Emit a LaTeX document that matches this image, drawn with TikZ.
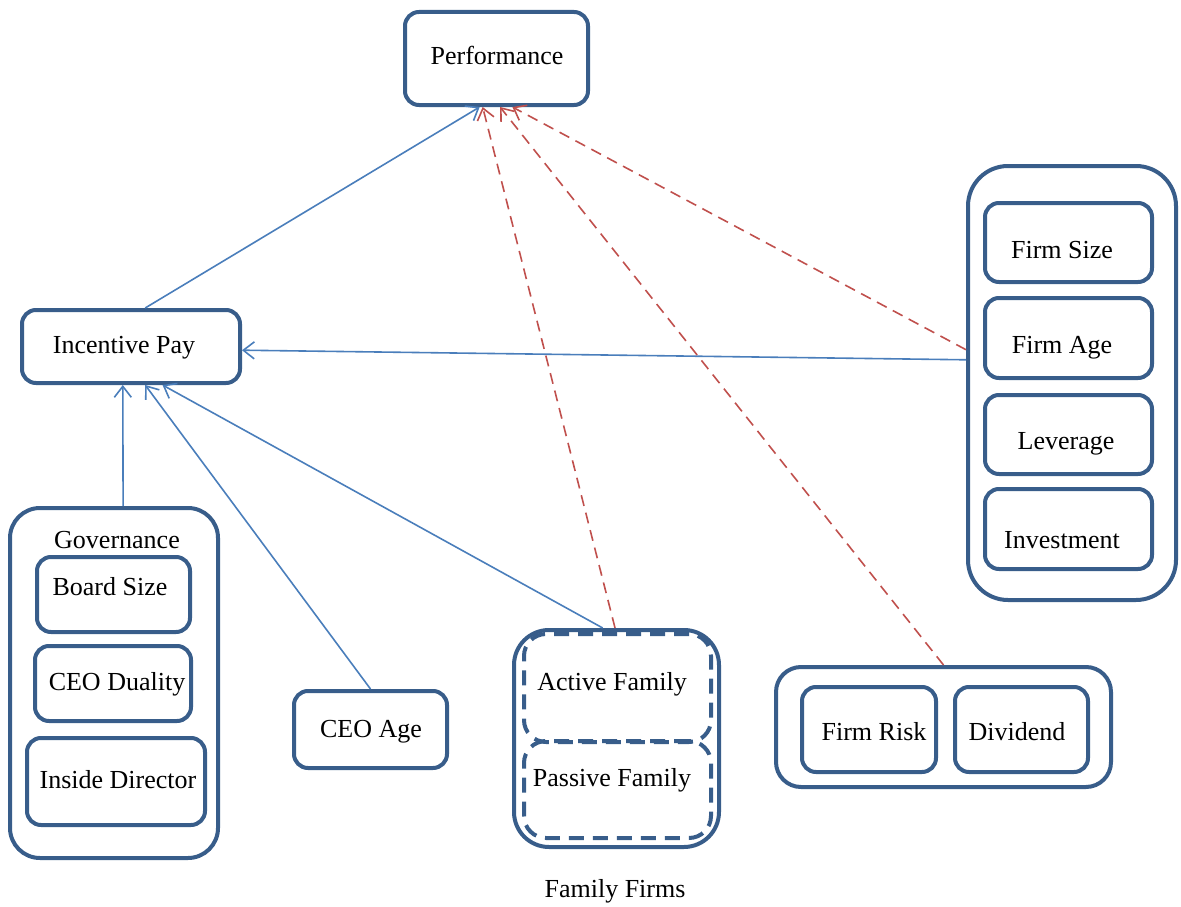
\documentclass[tikz,border=0pt]{standalone}
\usepackage{fontspec}
\setmainfont{Liberation Serif}
\usetikzlibrary{arrows.meta,calc}
\definecolor{boxc}{RGB}{56,93,138}
\definecolor{bluec}{RGB}{74,126,187}
\definecolor{redc}{RGB}{192,80,77}
\begin{document}
\begin{tikzpicture}[x=1pt,y=-1pt,
  box/.style={draw=boxc,line width=4pt,rounded corners=14pt,inner sep=0pt},
  dbox/.style={box,dash pattern=on 15pt off 9pt},
  txt/.style={inner sep=0pt,yshift=-3pt,font=\fontsize{26}{30}\selectfont},
  arr/.style={line width=1.6pt,-{Straight Barb[length=11pt,width=17pt,line width=1.6pt]}},
  solidc/.style={arr,draw=bluec},
  dashc/.style={arr,draw=redc,dash pattern=on 11pt off 7pt}]
\useasboundingbox (0,0) rectangle (1181,907);
% boxes
\node[box,minimum width=183,minimum height=93] (perf) at (496.5,58.5) {};
\node[txt] (tperf) at (497,52) {Performance};
\node[box,minimum width=218,minimum height=73] (inc) at (131,346.5) {};
\node[txt] (tinc) at (124,345) {Incentive Pay};
% governance
\node[box,rounded corners=30pt,minimum width=208,minimum height=350] (gov) at (114,683) {};
\node[txt] (tgov) at (117,537) {Governance};
\node[box,minimum width=153,minimum height=75] (board) at (113.5,594.5) {};
\node[txt] (tboard) at (110,584) {Board Size};
\node[box,minimum width=156,minimum height=75] (dual) at (113,683.5) {};
\node[txt] (tdual) at (117,681) {CEO Duality};
\node[box,minimum width=178,minimum height=87] (inside) at (116,781.5) {};
\node[txt] (tinside) at (118,777) {Inside Director};
% CEO age
\node[box,minimum width=153,minimum height=77] (age) at (370.5,729.5) {};
\node[txt] (tage) at (371,729) {CEO Age};
% family
\node[box,rounded corners=35pt,minimum width=205,minimum height=217] (fam) at (616.5,738.5) {};
\node[dbox,rounded corners=22pt,minimum width=187,minimum height=108] (act) at (617.5,688) {};
\node[dbox,rounded corners=22pt,minimum width=187,minimum height=97] (pas) at (617.5,789.5) {};
\node[txt] (tact) at (612,681) {Active Family};
\node[txt] (tpas) at (612,777) {Passive Family};
\node[txt] (tfam) at (615,888) {Family Firms};
% right controls
\node[box,rounded corners=40pt,minimum width=208,minimum height=434] (ctrl) at (1072,383) {};
\node[box,minimum width=167,minimum height=79] (fsize) at (1068.5,242.5) {};
\node[txt] (tfsize) at (1062,247) {Firm Size};
\node[box,minimum width=167,minimum height=80] (fage) at (1068.5,338) {};
\node[txt] (tfage) at (1062,345) {Firm Age};
\node[box,minimum width=167,minimum height=79] (lev) at (1068.5,434.5) {};
\node[txt] (tlev) at (1066,441) {Leverage};
\node[box,minimum width=167,minimum height=80] (inv) at (1068.5,529) {};
\node[txt] (tinv) at (1062,537) {Investment};
% bottom right
\node[box,rounded corners=25pt,minimum width=335,minimum height=120] (risk) at (943.5,727) {};
\node[box,minimum width=134,minimum height=85] (frisk) at (869,729.5) {};
\node[txt] (tfrisk) at (874,729) {Firm Risk};
\node[box,minimum width=133,minimum height=85] (div) at (1021.5,729.5) {};
\node[txt] (tdiv) at (1017,729) {Dividend};
% blue connectors
\draw[solidc] ($(inc.north west)!0.564!(inc.north east)$) -- ($(perf.south west)!0.41!(perf.south east)$);
\draw[solidc] ($(ctrl.north west)!0.447!(ctrl.south west)$) -- ($(inc.north east)!0.548!(inc.south east)$);
\draw[solidc] ($(gov.north west)!0.543!(gov.north east)$) -- ($(inc.south west)!0.463!(inc.south east)$);
\draw[solidc] (age.north) -- ($(inc.south west)!0.564!(inc.south east)$);
\draw[solidc] ($(fam.north west)!0.434!(fam.north east)$) -- ($(inc.south west)!0.642!(inc.south east)$);
% red dashed connectors
\draw[dashc] ($(fam.north west)!0.493!(fam.north east)$) -- ($(perf.south west)!0.426!(perf.south east)$);
\draw[dashc] (risk.north) -- ($(perf.south west)!0.519!(perf.south east)$);
\draw[dashc] ($(ctrl.north west)!0.424!(ctrl.south west)$) -- ($(perf.south west)!0.585!(perf.south east)$);
\end{tikzpicture}
\end{document}
